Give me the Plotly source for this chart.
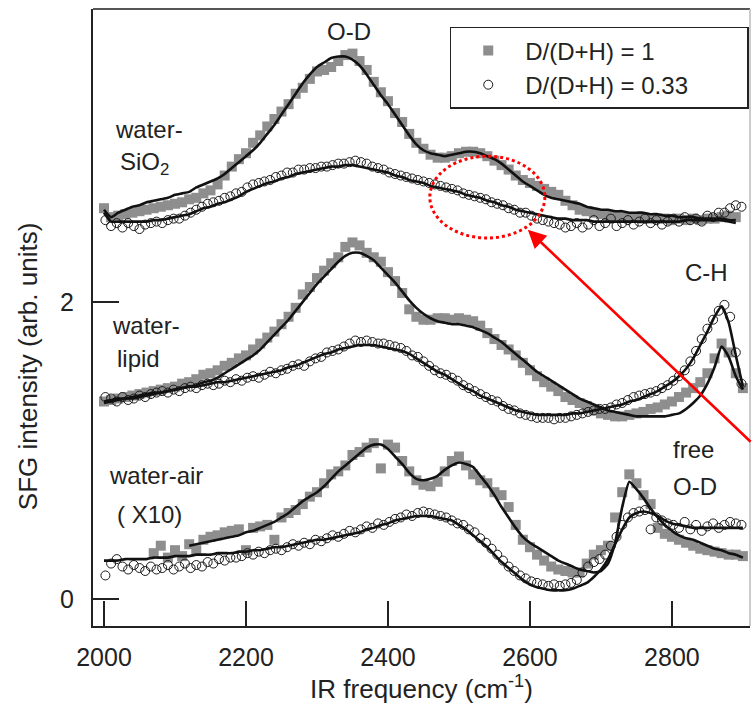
import plotly.graph_objects as go

# ---------------- data ----------------
freq = list(range(2000, 2901, 10))      # grid of D/(D+H)=1 points and fits (cm^-1)
freq_c = list(range(2002, 2899, 8))     # grid of D/(D+H)=0.33 points (cm^-1)

# water-SiO2
sq_top = [2.63, 2.57, 2.58, 2.59, 2.60, 2.61, 2.62, 2.63, 2.64, 2.65,
          2.66, 2.67, 2.69, 2.70, 2.73, 2.75, 2.79, 2.85, 2.91, 2.96,
          3.00, 3.07, 3.12, 3.18, 3.23, 3.28, 3.33, 3.40, 3.44, 3.50,
          3.55, 3.56, 3.58, 3.62, 3.66, 3.67, 3.62, 3.56, 3.48, 3.41,
          3.35, 3.27, 3.21, 3.13, 3.07, 3.03, 2.99, 2.97, 2.97, 2.98,
          3.00, 3.01, 3.01, 3.00, 2.98, 2.95, 2.92, 2.89, 2.85, 2.82,
          2.80, 2.78, 2.76, 2.74, 2.72, 2.68, 2.65, 2.62, 2.61, 2.60,
          2.59, 2.58, 2.58, 2.57, 2.57, 2.57, 2.56, 2.56, 2.56, 2.56,
          2.55, 2.56, 2.55, 2.56, 2.55, 2.56, 2.56, 2.57, 2.58, 2.57,
          None]
fit_top1 = [2.62, 2.57, 2.60, 2.62, 2.64, 2.65, 2.67, 2.68, 2.69, 2.70,
            2.72, 2.73, 2.74, 2.77, 2.79, 2.81, 2.83, 2.86, 2.90, 2.94,
            2.98, 3.02, 3.07, 3.13, 3.19, 3.26, 3.33, 3.40, 3.47, 3.53,
            3.58, 3.61, 3.64, 3.65, 3.65, 3.63, 3.59, 3.53, 3.46, 3.39,
            3.33, 3.26, 3.19, 3.12, 3.06, 3.02, 3.00, 2.99, 2.98, 2.99,
            3.00, 3.01, 3.01, 3.00, 2.98, 2.96, 2.93, 2.89, 2.85, 2.81,
            2.78, 2.75, 2.72, 2.70, 2.69, 2.68, 2.67, 2.66, 2.64, 2.63,
            2.62, 2.62, 2.61, 2.61, 2.60, 2.60, 2.60, 2.59, 2.59, 2.58,
            2.58, 2.57, 2.57, 2.57, 2.56, 2.56, 2.56, 2.56, 2.55, 2.55,
            None]
ci_top = [2.55, 2.51, 2.53, 2.50, 2.53, 2.51, 2.49, 2.52, 2.53, 2.54,
          2.53, 2.55, 2.56, 2.56, 2.58, 2.60, 2.62, 2.64, 2.66, 2.67,
          2.68, 2.70, 2.71, 2.73, 2.74, 2.77, 2.79, 2.80, 2.81, 2.82,
          2.84, 2.85, 2.87, 2.87, 2.89, 2.89, 2.90, 2.90, 2.91, 2.91,
          2.92, 2.93, 2.93, 2.94, 2.95, 2.94, 2.93, 2.91, 2.90, 2.89,
          2.87, 2.86, 2.85, 2.84, 2.83, 2.82, 2.81, 2.80, 2.79, 2.78,
          2.77, 2.76, 2.75, 2.73, 2.72, 2.71, 2.70, 2.69, 2.67, 2.66,
          2.65, 2.63, 2.62, 2.60, 2.60, 2.58, 2.56, 2.55, 2.54, 2.53,
          2.52, 2.50, 2.51, 2.53, 2.50, 2.52, 2.55, 2.51, 2.53, 2.56,
          2.51, 2.53, 2.55, 2.52, 2.54, 2.56, 2.53, 2.55, 2.52, 2.54,
          2.56, 2.54, 2.57, 2.55, 2.56, 2.54, 2.58, 2.57, 2.60, 2.60,
          2.63, 2.65, 2.64]
fit_top033 = [2.60, 2.54, 2.54, 2.54, 2.54, 2.54, 2.54, 2.55, 2.55, 2.56,
              2.57, 2.58, 2.59, 2.61, 2.63, 2.64, 2.66, 2.67, 2.69, 2.71,
              2.74, 2.76, 2.78, 2.80, 2.81, 2.83, 2.84, 2.86, 2.87, 2.88,
              2.89, 2.90, 2.91, 2.91, 2.92, 2.92, 2.91, 2.90, 2.89, 2.88,
              2.87, 2.85, 2.84, 2.82, 2.81, 2.80, 2.78, 2.77, 2.76, 2.75,
              2.74, 2.72, 2.71, 2.70, 2.68, 2.67, 2.65, 2.64, 2.62, 2.61,
              2.60, 2.59, 2.58, 2.57, 2.56, 2.56, 2.55, 2.55, 2.55, 2.54,
              2.54, 2.54, 2.54, 2.54, 2.54, 2.54, 2.54, 2.54, 2.54, 2.54,
              2.54, 2.54, 2.55, 2.55, 2.55, 2.55, 2.55, 2.55, 2.54, 2.53,
              None]

# water-lipid
sq_mid = [1.33, 1.34, 1.35, 1.36, 1.37, 1.38, 1.39, 1.40, 1.41, 1.42,
          1.43, 1.45, 1.46, 1.48, 1.51, 1.52, 1.54, 1.57, 1.59, 1.62,
          1.64, 1.68, 1.72, 1.76, 1.80, 1.85, 1.90, 1.96, 2.05, 2.10,
          2.16, 2.21, 2.26, 2.30, 2.37, 2.40, 2.38, 2.33, 2.30, 2.27,
          2.20, 2.14, 2.06, 1.95, 1.90, 1.88, 1.88, 1.89, 1.89, 1.88,
          1.89, 1.88, 1.87, 1.84, 1.79, 1.75, 1.71, 1.68, 1.64, 1.59,
          1.54, 1.50, 1.46, 1.43, 1.40, 1.36, 1.34, 1.32, 1.30, 1.27,
          1.25, 1.24, 1.23, 1.23, 1.24, 1.25, 1.26, 1.28, 1.29, 1.31,
          1.33, 1.36, 1.39, 1.42, 1.46, 1.52, 1.62, 1.72, 1.66, 1.52,
          1.42]
fit_mid1 = [1.33, 1.34, 1.35, 1.35, 1.36, 1.37, 1.38, 1.39, 1.39, 1.40,
            1.41, 1.42, 1.43, 1.44, 1.46, 1.47, 1.49, 1.52, 1.55, 1.58,
            1.61, 1.64, 1.68, 1.73, 1.78, 1.83, 1.88, 1.94, 2.00, 2.06,
            2.12, 2.17, 2.22, 2.27, 2.31, 2.33, 2.33, 2.31, 2.28, 2.23,
            2.18, 2.13, 2.07, 2.01, 1.96, 1.92, 1.89, 1.87, 1.86, 1.85,
            1.85, 1.84, 1.83, 1.81, 1.79, 1.76, 1.73, 1.69, 1.65, 1.61,
            1.57, 1.53, 1.50, 1.47, 1.44, 1.41, 1.38, 1.35, 1.33, 1.31,
            1.29, 1.27, 1.26, 1.25, 1.24, 1.23, 1.23, 1.23, 1.23, 1.23,
            1.24, 1.25, 1.28, 1.32, 1.37, 1.45, 1.56, 1.70, 1.63, 1.50,
            1.41]
ci_mid = [1.36, 1.35, 1.33, 1.36, 1.34, 1.35, 1.37, 1.36, 1.38, 1.39,
          1.40, 1.39, 1.41, 1.40, 1.42, 1.43, 1.42, 1.44, 1.45, 1.44,
          1.45, 1.47, 1.46, 1.48, 1.47, 1.49, 1.50, 1.49, 1.51, 1.53,
          1.52, 1.54, 1.55, 1.57, 1.58, 1.57, 1.60, 1.62, 1.63, 1.66,
          1.67, 1.68, 1.70, 1.72, 1.74, 1.73, 1.74, 1.73, 1.72, 1.72,
          1.71, 1.70, 1.69, 1.67, 1.64, 1.63, 1.60, 1.57, 1.54, 1.52,
          1.51, 1.49, 1.47, 1.44, 1.42, 1.40, 1.38, 1.36, 1.34, 1.33,
          1.30, 1.28, 1.27, 1.25, 1.24, 1.23, 1.22, 1.22, 1.22, 1.21,
          1.22, 1.22, 1.23, 1.24, 1.25, 1.26, 1.27, 1.28, 1.28, 1.29,
          1.31, 1.32, 1.34, 1.36, 1.37, 1.38, 1.39, 1.40, 1.42, 1.44,
          1.47, 1.50, 1.54, 1.60, 1.67, 1.75, 1.82, 1.88, 1.94, 1.98,
          1.90, 1.66, 1.45]
fit_mid033 = [1.32, 1.33, 1.34, 1.35, 1.35, 1.36, 1.37, 1.38, 1.39, 1.40,
              1.41, 1.42, 1.43, 1.43, 1.44, 1.45, 1.46, 1.46, 1.47, 1.48,
              1.49, 1.50, 1.51, 1.52, 1.53, 1.54, 1.56, 1.57, 1.59, 1.61,
              1.63, 1.65, 1.66, 1.68, 1.69, 1.70, 1.71, 1.71, 1.71, 1.70,
              1.69, 1.68, 1.67, 1.65, 1.62, 1.59, 1.56, 1.53, 1.51, 1.48,
              1.45, 1.42, 1.40, 1.37, 1.35, 1.33, 1.31, 1.29, 1.27, 1.26,
              1.25, 1.24, 1.24, 1.24, 1.24, 1.24, 1.25, 1.25, 1.26, 1.27,
              1.28, 1.29, 1.30, 1.31, 1.33, 1.34, 1.36, 1.38, 1.40, 1.43,
              1.46, 1.50, 1.55, 1.62, 1.71, 1.80, 1.90, 1.97, 1.86, 1.64,
              1.43]

# water-air (x10)
sq_bot = [None, None, None, None, None, None, None, 0.31, 0.36, 0.28,
          0.33, 0.29, 0.37, 0.33, 0.40, 0.42, 0.43, 0.45, 0.46, 0.47,
          0.33, 0.48, 0.49, 0.50, 0.40, 0.55, 0.58, 0.60, 0.64, 0.69,
          0.72, 0.78, 0.84, 0.86, 0.90, 0.97, 0.99, 1.02, 1.05, 0.88,
          1.04, 1.02, 0.93, 0.86, 0.80, 0.77, 0.76, 0.79, 0.86, 0.93,
          0.96, 0.90, 0.84, 0.80, 0.78, 0.72, 0.70, 0.62, 0.50, 0.40,
          0.35, 0.30, 0.26, 0.22, 0.20, 0.19, 0.18, 0.18, 0.24, 0.30,
          0.33, 0.36, 0.55, 0.72, 0.84, 0.78, 0.70, 0.64, 0.48, 0.44,
          0.42, 0.40, 0.38, 0.36, 0.34, 0.33, 0.32, 0.31, 0.30, 0.30,
          0.29]
fit_bot1 = [None, None, None, None, None, None, None, None, None, None,
            None, None, 0.36, 0.37, 0.38, 0.39, 0.40, 0.41, 0.42, 0.43,
            0.45, 0.46, 0.48, 0.50, 0.52, 0.55, 0.58, 0.62, 0.66, 0.69,
            0.72, 0.76, 0.81, 0.86, 0.90, 0.94, 0.98, 1.02, 1.04, 1.04,
            1.01, 0.96, 0.91, 0.85, 0.81, 0.80, 0.81, 0.83, 0.87, 0.90,
            0.92, 0.91, 0.89, 0.83, 0.77, 0.70, 0.62, 0.55, 0.48, 0.42,
            0.38, 0.35, 0.32, 0.29, 0.26, 0.24, 0.22, 0.20, 0.19, 0.18,
            0.19, 0.24, 0.38, 0.62, 0.79, 0.74, 0.68, 0.61, 0.55, 0.50,
            0.46, 0.43, 0.41, 0.40, 0.38, 0.36, 0.34, 0.33, 0.31, 0.30,
            0.28]
ci_bot = [0.16, 0.24, 0.27, 0.22, 0.20, 0.23, 0.21, 0.19, 0.22, 0.20,
          0.21, 0.23, 0.20, 0.22, 0.24, 0.21, 0.23, 0.22, 0.25, 0.24,
          0.27, 0.26, 0.28, 0.28, 0.29, 0.31, 0.30, 0.32, 0.31, 0.33,
          0.34, 0.33, 0.35, 0.37, 0.36, 0.38, 0.37, 0.40, 0.39, 0.41,
          0.43, 0.42, 0.44, 0.46, 0.45, 0.47, 0.49, 0.48, 0.51, 0.50,
          0.52, 0.54, 0.55, 0.57, 0.56, 0.58, 0.59, 0.58, 0.57, 0.56,
          0.55, 0.53, 0.51, 0.50, 0.47, 0.45, 0.41, 0.38, 0.34, 0.30,
          0.26, 0.22, 0.19, 0.16, 0.14, 0.12, 0.11, 0.10, 0.09, 0.10,
          0.09, 0.10, 0.11, 0.13, 0.18, 0.22, 0.25, 0.27, 0.30, 0.36,
          0.42, 0.50, 0.55, 0.58, 0.59, 0.60, 0.47, 0.55, 0.53, 0.51,
          0.50, 0.48, 0.52, 0.47, 0.50, 0.46, 0.49, 0.51, 0.48, 0.50,
          0.52, 0.51, 0.50]
fit_bot033 = [0.26, 0.26, 0.26, 0.27, 0.27, 0.27, 0.27, 0.28, 0.28, 0.28,
              0.29, 0.29, 0.29, 0.30, 0.30, 0.30, 0.31, 0.31, 0.31, 0.32,
              0.32, 0.33, 0.33, 0.34, 0.35, 0.35, 0.36, 0.37, 0.38, 0.39,
              0.40, 0.40, 0.41, 0.42, 0.43, 0.44, 0.45, 0.47, 0.48, 0.50,
              0.51, 0.53, 0.54, 0.55, 0.56, 0.56, 0.56, 0.55, 0.54, 0.53,
              0.50, 0.47, 0.43, 0.39, 0.35, 0.30, 0.25, 0.21, 0.17, 0.13,
              0.10, 0.08, 0.07, 0.06, 0.06, 0.06, 0.07, 0.09, 0.11, 0.15,
              0.20, 0.27, 0.37, 0.47, 0.55, 0.58, 0.59, 0.58, 0.56, 0.53,
              0.51, 0.50, 0.49, 0.48, 0.48, 0.48, 0.48, 0.48, 0.48, 0.48,
              0.48]

legend_names = ["D/(D+H) = 1", "D/(D+H) = 0.33"]
x_ticks = [2000, 2200, 2400, 2600, 2800]
y_ticks = [0, 2]

# ---------------- styles ----------------
FONT = "Liberation Sans, Arial, Helvetica, sans-serif"
TXT = "#222222"
SQ = dict(symbol="square", size=10, color="#8e8e8e", line=dict(width=0))
CI = dict(symbol="circle-open", size=9, color="#1a1a1a", line=dict(width=1))
LN = dict(color="#111111", width=2.6, shape="spline", smoothing=0.5)
PAD = "&nbsp;" * 8   # right padding inside the legend box

fig = go.Figure()

# squares (D/(D+H)=1)
for i, ys in enumerate([sq_top, sq_mid, sq_bot]):
    fig.add_trace(go.Scatter(x=freq, y=ys, mode="markers", marker=SQ,
                             name=legend_names[0] + PAD, showlegend=(i == 0),
                             legendgroup="a"))
# circles (D/(D+H)=0.33)
for i, ys in enumerate([ci_top, ci_mid, ci_bot]):
    fig.add_trace(go.Scatter(x=freq_c, y=ys, mode="markers", marker=CI,
                             name=legend_names[1] + PAD, showlegend=(i == 0),
                             legendgroup="b"))
# fits
for ys in [fit_top1, fit_top033, fit_mid1, fit_mid033, fit_bot1, fit_bot033]:
    fig.add_trace(go.Scatter(x=freq, y=ys, mode="lines", line=LN,
                             showlegend=False, hoverinfo="skip"))

# ---------------- text labels ----------------
def label(x, y, text, xanchor="left"):
    fig.add_annotation(x=x, y=y, xref="x", yref="y", text=text,
                       showarrow=False, xanchor=xanchor, yanchor="middle",
                       font=dict(size=24, color=TXT, family=FONT))

label(2345, 3.82, "O-D", "center")
label(2013, 3.16, "water-")
label(2020, 2.93, "SiO<sub>2</sub>")
label(2008, 1.84, "water-")
label(2015, 1.62, "lipid")
label(2004, 0.83, "water-air")
label(2015, 0.57, "( X10)")
label(2849, 2.20, "C-H", "center")
label(2831, 1.01, "free", "center")
label(2832, 0.76, "O-D", "center")

# y-axis title (placed lower than the plot centre, as in the original)
fig.add_annotation(x=-0.099, y=0.421, xref="paper", yref="paper",
                   text="SFG intensity (arb. units)", textangle=-90,
                   showarrow=False, xanchor="center", yanchor="middle",
                   font=dict(size=26, color=TXT, family=FONT))

# red dotted ellipse and arrow
fig.add_shape(type="circle", xref="x", yref="y", x0=2459, x1=2621, y0=2.43, y1=2.98,
              line=dict(color="#ff0000", width=3, dash="dot"))
fig.add_annotation(x=2597, y=2.485, ax=2913, ay=1.05, xref="x", yref="y",
                   axref="x", ayref="y", text="", showarrow=True,
                   arrowhead=2, arrowsize=1.4, arrowwidth=2.6, arrowcolor="#ff0000")

# frame (top / right)
fig.add_shape(type="line", xref="paper", yref="paper", x0=0, x1=1, y0=1, y1=1,
              line=dict(color="#555555", width=2))
fig.add_shape(type="line", xref="paper", yref="paper", x0=1, x1=1, y0=0, y1=1,
              line=dict(color="#bbbbbb", width=1.5))

fig.update_layout(
    width=752, height=709,
    margin=dict(l=93, r=2, t=9, b=83),
    paper_bgcolor="white", plot_bgcolor="white",
    font=dict(family=FONT, size=24, color=TXT),
    showlegend=True,
    legend=dict(x=0.543, y=0.971, xanchor="left", yanchor="top",
                bgcolor="white", bordercolor="#222222", borderwidth=1.5,
                font=dict(size=24, color=TXT, family=FONT),
                tracegroupgap=0, itemwidth=64),
    xaxis=dict(range=[1984.5, 2910], tickvals=x_ticks, ticks="inside",
               ticklen=25, tickwidth=1.5, tickcolor=TXT, showline=True,
               linecolor=TXT, linewidth=2, showgrid=False, zeroline=False,
               tickfont=dict(size=25, color=TXT), ticklabelstandoff=8,
               title=dict(text="IR frequency (cm<sup>-1</sup>)",
                          font=dict(size=26, color=TXT), standoff=4)),
    yaxis=dict(range=[-0.18, 3.97], tickvals=y_ticks, ticks="inside",
               ticklen=26, tickwidth=1.5, tickcolor=TXT, showline=True,
               linecolor=TXT, linewidth=2, showgrid=False, zeroline=False,
               tickfont=dict(size=25, color=TXT), ticklabelstandoff=12),
)

fig.write_html("out.html")
